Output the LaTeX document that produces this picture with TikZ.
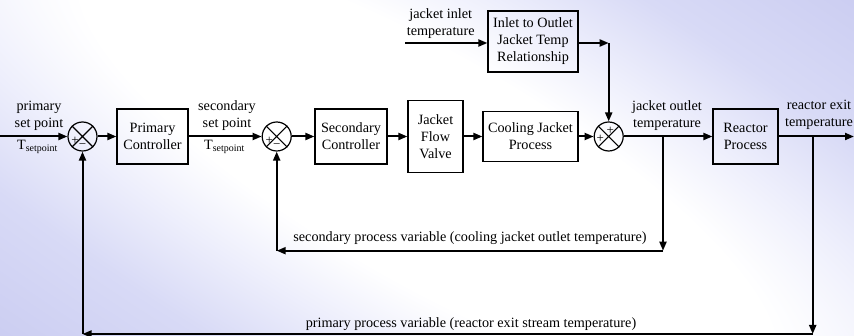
\documentclass[tikz,border=0pt]{standalone}
\usepackage{fontspec}
\setmainfont{Liberation Serif}
\usetikzlibrary{arrows.meta}
\definecolor{bgA}{RGB}{238,239,252}
\definecolor{bgB}{RGB}{216,218,246}
\definecolor{bgC}{RGB}{200,202,240}
\pgfdeclareradialshading{bgshade}{\pgfpointorigin}{color(0bp)=(white); color(14bp)=(white); color(22bp)=(bgA); color(32bp)=(bgB); color(50bp)=(bgC)}
\tikzset{
  blk/.style={draw, line width=1.2pt, align=center, inner sep=0pt},
  sumj/.style={draw, circle, line width=1.2pt, minimum size=29pt, inner sep=0pt},
  lbl/.style={align=center, inner sep=0pt},
  wire/.style={line width=2pt},
  arr/.style={wire, -{Triangle[length=9pt,width=7pt]}},
  sgn/.style={font=\fontsize{13}{13}\selectfont, inner sep=0pt},
  xline/.style={line width=1.1pt}
}
\begin{document}
\begin{tikzpicture}[x=1pt,y=-1pt, every node/.style={font=\fontsize{14.2}{17}\selectfont}]
\useasboundingbox (0,0) rectangle (854,336);
\begin{scope}
  \clip (0,0) rectangle (854,336);
  \begin{scope}[shift={(427,168)}, rotate=-30, xscale=27.9, yscale=8]
    \pgflowlevelsynccm
    \pgfuseshading{bgshade}
  \end{scope}
\end{scope}

% blocks
\node[sumj] (s1) at (82.5,136.5) {};
\node[blk, minimum width=71pt, minimum height=55pt] (pc) at (152.5,136.5) {Primary\\Controller};
\node[sumj] (s2) at (276.7,136.5) {};
\node[blk, minimum width=72pt, minimum height=55pt] (sc) at (351,136.5) {Secondary\\Controller};
\node[blk, minimum width=55pt, minimum height=72pt] (jfv) at (435.5,136.5) {Jacket\\Flow\\Valve};
\node[blk, minimum width=95pt, minimum height=50pt] (cjp) at (530.5,136.5) {Cooling Jacket\\Process};
\node[sumj] (s3) at (608.7,136.5) {};
\node[blk, minimum width=65pt, minimum height=55pt] (rp) at (745.5,136.5) {Reactor\\Process};
\node[blk, minimum width=90pt, minimum height=61pt] (io) at (533,41.5) {Inlet to Outlet\\Jacket Temp\\Relationship};

% summing junction crosses and signs
\foreach \s in {s1,s2,s3}{
  \draw[xline] (\s.45) -- (\s.225) (\s.135) -- (\s.-45);
}
\node[sgn, shift={(-7.5,4)}] (s1p) at (s1) {+};
\node[sgn, shift={(0,9.5)}] (s1m) at (s1) {−};
\node[sgn, shift={(-7.5,4)}] (s2p) at (s2) {+};
\node[sgn, shift={(0,9.5)}] (s2m) at (s2) {−};
\node[sgn, shift={(1.5,-6)}] (s3t) at (s3) {+};
\node[sgn, shift={(-8.5,2)}] (s3l) at (s3) {+};

% coordinates
\coordinate (in0) at (0,136.5);
\coordinate (out0) at (854,136.5);
\coordinate (b1) at (663,136.5);
\coordinate (b1d) at (663,250.7);
\coordinate (b1l) at (276.7,250.7);
\coordinate (b2) at (812.7,136.5);
\coordinate (b2d) at (812.7,334);
\coordinate (b2l) at (82.5,334);
\coordinate (jin) at (405,43);
\coordinate (jc) at (608.7,43);

% forward path
\draw[arr] (in0) -- (s1);
\draw[arr] (s1) -- (pc);
\draw[arr] (pc) -- (s2);
\draw[arr] (s2) -- (sc);
\draw[arr] (sc) -- (jfv);
\draw[arr] (jfv) -- (cjp);
\draw[arr] (cjp) -- (s3);
\draw[arr] (s3) -- (rp);
\draw[arr] (rp) -- (out0);

% jacket inlet path
\draw[arr] (jin) -- (io.west |- jin);
\draw[arr] (io.east |- jc) -- (jc);
\draw[arr] (jc) -- (s3);

% feedback loops
\draw[arr] (b1) -- (b1d);
\draw[arr] (b1d) -- (b1l);
\draw[arr] (b1l) -- (s2);
\draw[arr] (b2) -- (b2d);
\draw[arr] (b2d) -- (b2l);
\draw[arr] (b2l) -- (s1);

% labels
\node[lbl] (psp) at (39,115.7) {primary\\set point};
\node[inner sep=0pt, anchor=base west] (t1) at (17,149.5) {T\textsubscript{setpoint}};
\node[lbl] (ssp) at (227,115.7) {secondary\\set point};
\node[inner sep=0pt, anchor=base west] (t2) at (204,149.5) {T\textsubscript{setpoint}};
\node[lbl] (jit) at (440.7,23.5) {jacket inlet\\temperature};
\node[lbl] (jot) at (667,115.3) {jacket outlet\\temperature};
\node[lbl] (ret) at (819,115.3) {reactor exit\\temperature};
\node[inner sep=0pt, anchor=base] (spv) at (470,241.7) {secondary process variable (cooling jacket outlet temperature)};
\node[inner sep=0pt, anchor=base] (ppv) at (471,328) {primary process variable (reactor exit stream temperature)};
\end{tikzpicture}
\end{document}
